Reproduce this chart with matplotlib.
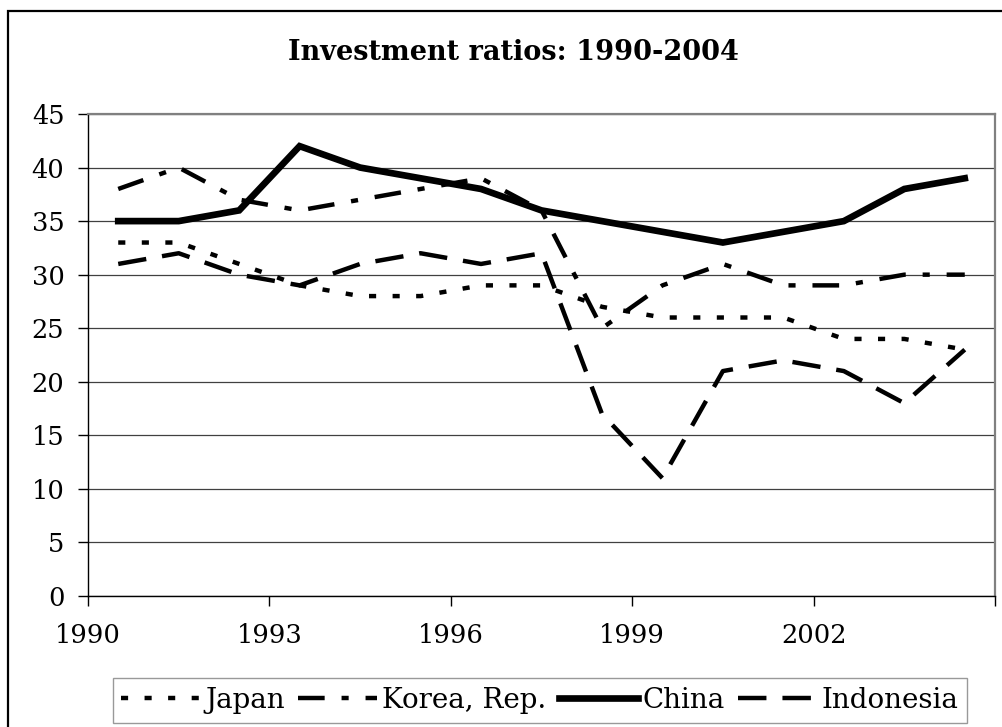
import matplotlib
matplotlib.use("Agg")
import matplotlib.pyplot as plt
from matplotlib.patches import Rectangle
import numpy as np

plt.rcParams['font.family'] = ['DejaVu Serif']

# data (% of GDP)
years = list(range(1990, 2005))
japan = [33, 33, 31, 29, 28, 28, 29, 29, 27, 26, 26, 26, 24, 24, 23]
korea = [38, 40, 37, 36, 37, 38, 39, 36, 25, 29, 31, 29, 29, 30, 30]
china = [35, 35, 36, 42, 40, 39, 38, 36, 35, 34, 33, 34, 35, 38, 39]
indonesia = [31, 32, 30, 29, 31, 32, 31, 32, 17, 11, 21, 22, 21, 18, 23]
tick_years = [1990, 1993, 1996, 1999, 2002]
title = "Investment ratios: 1990-2004"

W, H = 1003, 727
fig = plt.figure(figsize=(W / 100, H / 100), dpi=100)

# chart area border (cropped on right and bottom like the source)
fig.patches.append(Rectangle((8 / W, -0.5), 2.0, 1 - 11 / H + 0.5,
                             transform=fig.transFigure, fill=False,
                             edgecolor='black', linewidth=1.6, zorder=0))

ax = fig.add_axes([88 / W, 1 - 596 / H, (995 - 88) / W, (596 - 114) / H])

# categories sit in the middle of each slot
x = np.arange(len(years)) + 0.5

ax.plot(x, japan, color='black', lw=3.2, dashes=(1.6, 3.7), label='Japan')
ax.plot(x, korea, color='black', lw=3.2, dashes=(6.0, 3.8, 1.6, 3.8), label='Korea, Rep.')
ax.plot(x, china, color='black', lw=4.8, solid_joinstyle='miter', label='China')
ax.plot(x, indonesia, color='black', lw=3.2, dashes=(6.4, 3.6), label='Indonesia')

ax.set_xlim(0, len(years))
ax.set_ylim(0, 45)
ax.set_yticks(range(0, 50, 5))
xt = [years.index(y) for y in tick_years] + [len(years)]
ax.set_xticks(xt)
ax.set_xticklabels([str(y) for y in tick_years] + [''])

ax.yaxis.grid(True, color='#404040', lw=0.9)
ax.set_axisbelow(True)

for s in ['left', 'bottom']:
    ax.spines[s].set_color('black')
    ax.spines[s].set_linewidth(1.0)
for s in ['top', 'right']:
    ax.spines[s].set_color('#808080')
    ax.spines[s].set_linewidth(1.6)

ax.tick_params(axis='y', direction='out', length=7, width=1.0, pad=10, labelsize=18.5)
ax.tick_params(axis='x', direction='out', length=7.5, width=1.0, pad=12, labelsize=18.5)

fig.text(513 / W, 1 - 52 / H, title, ha='center', va='center',
         fontsize=19.5, fontweight='bold')

leg = fig.legend(loc='upper center', bbox_to_anchor=(540 / W, 1 - 678 / H),
                 ncol=4, fontsize=20, frameon=True, fancybox=False,
                 edgecolor='#808080', handlelength=2.85, handletextpad=0.18,
                 columnspacing=0.45, borderpad=0.32, borderaxespad=0)
leg.get_frame().set_linewidth(1.0)

fig.savefig('out.png', dpi=100)
